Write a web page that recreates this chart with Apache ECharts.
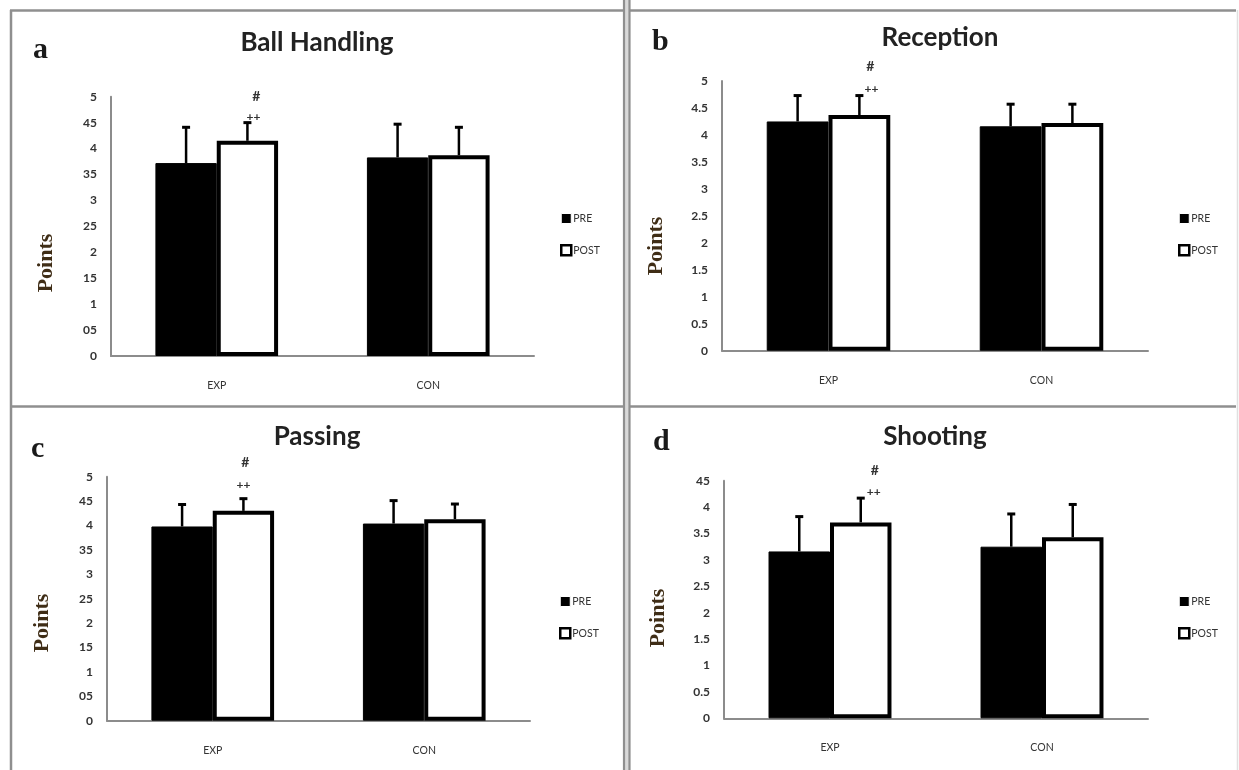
<!DOCTYPE html>
<html>
<head>
<meta charset="utf-8">
<script src="https://cdn.jsdelivr.net/npm/echarts@6/dist/echarts.min.js"></script>
<style>
html,body{margin:0;padding:0;background:#fff;}
#chart{width:1239px;height:770px;}
</style>
</head>
<body>
<div id="chart"></div>
<script>
// ---------- DATA ----------
const categories = ['EXP', 'CON'];
const panelTitles = ['Ball Handling', 'Reception', 'Passing', 'Shooting'];
const panelLetters = ['a', 'b', 'c', 'd'];
const yAxisName = 'Points';
const seriesNames = ['PRE', 'POST'];

const preA = [3.72, 3.83];   const preErrA = [4.41, 4.47];
const postA = [4.15, 3.87];  const postErrA = [4.50, 4.41];
const preB = [4.25, 4.16];   const preErrB = [4.73, 4.57];
const postB = [4.37, 4.22];  const postErrB = [4.73, 4.57];
const preC = [3.98, 4.04];   const preErrC = [4.43, 4.51];
const postC = [4.30, 4.13];  const postErrC = [4.55, 4.44];
const preD = [3.16, 3.25];   const preErrD = [3.82, 3.87];
const postD = [3.71, 3.43];  const postErrD = [4.17, 4.05];

const ticksA = ['0', '05', '1', '15', '2', '25', '3', '35', '4', '45', '5'];
const ticksB = ['0', '0.5', '1', '1.5', '2', '2.5', '3', '3.5', '4', '4.5', '5'];
const ticksC = ['0', '05', '1', '15', '2', '25', '3', '35', '4', '45', '5'];
const ticksD = ['0', '0.5', '1', '1.5', '2', '2.5', '3', '3.5', '4', '45'];
const yMax = [5, 5, 5, 4.5];

// significance marks above EXP POST bar: y values of '#' and '++'
const hashY = [5.0, 5.26, 5.30, 4.70];
const plusY = [4.61, 4.85, 4.83, 4.29];

const pre = [preA, preB, preC, preD];
const preErr = [preErrA, preErrB, preErrC, preErrD];
const post = [postA, postB, postC, postD];
const postErr = [postErrA, postErrB, postErrC, postErrD];
const ticks = [ticksA, ticksB, ticksC, ticksD];

// ---------- LAYOUT ----------
const layout = [
  {grid:{left:111, top:96.7, width:423, height:259.3}, title:[317,43], letter:[33,50], points:[46,263], legend:[555,208], hashDx:9, plusDx:6},
  {grid:{left:722, top:81, width:426, height:269.7}, title:[940,38], letter:[652,42], points:[656,246], legend:[1173,208], hashDx:11, plusDx:12},
  {grid:{left:107, top:476.7, width:423, height:244}, title:[317,437], letter:[31,449], points:[42,623], legend:[554,591], hashDx:2, plusDx:0},
  {grid:{left:724, top:480.7, width:424, height:237.6}, title:[935,437], letter:[653,442], points:[658,618], legend:[1173,591], hashDx:14, plusDx:13}
];

const CAT_GAP = 0.42;
const FONT = 'Lato, "Open Sans", sans-serif';

function errRender(side) {
  return function (params, api) {
    const cat = api.value(0);
    const val = api.value(1);
    const err = api.value(2);
    const base = api.coord([cat, val]);
    const tip = api.coord([cat, err]);
    const bw = api.size([1, 0])[0] * (1 - CAT_GAP) / 2;
    const x = base[0] + side * bw / 2;
    return {
      type: 'group',
      children: [
        {type: 'line', shape: {x1: x, y1: base[1], x2: x, y2: tip[1]}, style: {stroke: '#000', lineWidth: 2.5}},
        {type: 'line', shape: {x1: x - 4, y1: tip[1], x2: x + 4, y2: tip[1]}, style: {stroke: '#000', lineWidth: 3}}
      ]
    };
  };
}

function annoRender(dxHash, dxPlus) {
  return function (params, api) {
    const cat = api.value(0);
    const bw = api.size([1, 0])[0] * (1 - CAT_GAP) / 2;
    const h = api.coord([cat, api.value(1)]);
    const p = api.coord([cat, api.value(2)]);
    const x = h[0] + bw / 2;
    return {
      type: 'group',
      children: [
        {type: 'text', style: {text: '#', x: x + dxHash, y: h[1], align: 'center', verticalAlign: 'middle', font: 'bold 14px ' + FONT, fill: '#333'}},
        {type: 'text', style: {text: '++', x: x + dxPlus, y: p[1], align: 'center', verticalAlign: 'middle', font: 'bold 12px ' + FONT, fill: '#333'}}
      ]
    };
  };
}

const grids = [], xAxes = [], yAxes = [], series = [], legends = [], graphics = [];

layout.forEach((L, i) => {
  grids.push(Object.assign({containLabel: false}, L.grid));
  xAxes.push({
    type: 'category', gridIndex: i, data: categories,
    axisTick: {show: false},
    axisLine: {lineStyle: {color: '#8c8c8c', width: 2}},
    axisLabel: {margin: 24, fontSize: 10.5, color: '#333', fontFamily: FONT}
  });
  const tk = ticks[i];
  yAxes.push({
    type: 'value', gridIndex: i, min: 0, max: yMax[i], interval: 0.5,
    axisLine: {show: true, lineStyle: {color: '#8c8c8c', width: 2}},
    axisTick: {show: false},
    splitLine: {show: false},
    axisLabel: {
      margin: 14, fontSize: 12, color: '#333', fontFamily: FONT, fontWeight: 'bold',
      formatter: function (v) { return tk[Math.round(v * 2)]; }
    }
  });
  series.push({
    name: seriesNames[0], type: 'bar', xAxisIndex: i, yAxisIndex: i,
    data: pre[i], barGap: '0%', barCategoryGap: (CAT_GAP * 100) + '%',
    itemStyle: {color: '#000', borderColor: '#000', borderWidth: 1}
  });
  series.push({
    name: seriesNames[1], type: 'bar', xAxisIndex: i, yAxisIndex: i,
    data: post[i], barGap: '0%', barCategoryGap: (CAT_GAP * 100) + '%',
    itemStyle: {color: '#fff', borderColor: '#000', borderWidth: 4}
  });
  series.push({
    name: 'errPRE', type: 'custom', xAxisIndex: i, yAxisIndex: i, z: 5,
    renderItem: errRender(-1),
    data: categories.map((c, k) => [k, pre[i][k], preErr[i][k]])
  });
  series.push({
    name: 'errPOST', type: 'custom', xAxisIndex: i, yAxisIndex: i, z: 5,
    renderItem: errRender(1),
    data: categories.map((c, k) => [k, post[i][k], postErr[i][k]])
  });
  series.push({
    name: 'sig', type: 'custom', xAxisIndex: i, yAxisIndex: i, z: 6,
    renderItem: annoRender(L.hashDx, L.plusDx),
    data: [[0, hashY[i], plusY[i]]]
  });
  legends.push({
    orient: 'vertical', left: L.legend[0], top: L.legend[1],
    itemWidth: 10, itemHeight: 10, itemGap: 20, selectedMode: false,
    textStyle: {fontSize: 10.5, color: '#333', fontFamily: FONT, padding: [0, 0, 0, -3]},
    data: [
      {name: 'PRE', icon: 'rect', itemStyle: {color: '#000', borderColor: '#fff', borderWidth: 1}},
      {name: 'POST', icon: 'rect', itemStyle: {color: '#fff', borderColor: '#000', borderWidth: 2.5}}
    ]
  });
  graphics.push({
    type: 'text', x: L.title[0], y: L.title[1],
    style: {text: panelTitles[i], align: 'center', verticalAlign: 'middle', font: 'bold 26px ' + FONT, fill: '#222'}
  });
  graphics.push({
    type: 'text', x: L.letter[0], y: L.letter[1],
    style: {text: panelLetters[i], align: 'left', verticalAlign: 'middle', font: 'bold 30px "Liberation Serif", "DejaVu Serif", serif', fill: '#1a1a1a'}
  });
  graphics.push({
    type: 'text', x: L.points[0], y: L.points[1], rotation: Math.PI / 2,
    style: {text: yAxisName, align: 'center', verticalAlign: 'middle', font: 'bold 22px "Liberation Serif", "DejaVu Serif", serif', fill: '#3f2d16'}
  });
});

// panel frame lines
const frameColor = '#8f8f8f';
graphics.push(
  {type: 'line', shape: {x1: 10, y1: 10.5, x2: 1236, y2: 10.5}, style: {stroke: frameColor, lineWidth: 2.5}, z: 10},
  {type: 'line', shape: {x1: 11, y1: 10, x2: 11, y2: 770}, style: {stroke: frameColor, lineWidth: 2.5}, z: 10},
  {type: 'line', shape: {x1: 10, y1: 406.5, x2: 1236, y2: 406.5}, style: {stroke: frameColor, lineWidth: 2.5}, z: 10},
  {type: 'rect', shape: {x: 624, y: 0, width: 5.5, height: 770}, style: {fill: '#d9d9d9'}, z: 11},
  {type: 'line', shape: {x1: 624, y1: 0, x2: 624, y2: 770}, style: {stroke: frameColor, lineWidth: 2.2}, z: 12},
  {type: 'line', shape: {x1: 629.5, y1: 0, x2: 629.5, y2: 770}, style: {stroke: frameColor, lineWidth: 2.2}, z: 12},
  {type: 'line', shape: {x1: 1237.5, y1: 10, x2: 1237.5, y2: 770}, style: {stroke: '#e0e0e0', lineWidth: 1.5}, z: 10}
);

const chart = echarts.init(document.getElementById('chart'), null, {renderer: 'canvas'});
chart.setOption({
  animation: false,
  backgroundColor: '#fff',
  grid: grids,
  xAxis: xAxes,
  yAxis: yAxes,
  legend: legends,
  series: series,
  graphic: graphics
});
</script>
</body>
</html>
